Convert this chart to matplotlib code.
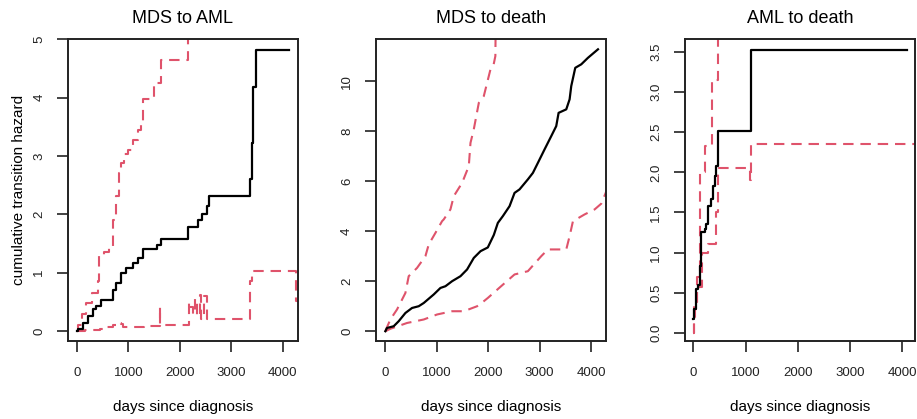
import matplotlib
matplotlib.use("Agg")
import matplotlib.pyplot as plt

plt.rcParams['font.family'] = ['Liberation Sans', 'DejaVu Sans']

RED = "#DF536B"

titles = ["MDS to AML", "MDS to death", "AML to death"]
x_label = "days since diagnosis"
y_label = "cumulative transition hazard"
x_ticks = [0, 1000, 2000, 3000, 4000]

# ---- MDS to AML ----
aml_t = [0, 20, 116, 213, 310, 375, 472, 666, 700, 760, 860, 955, 1087, 1184, 1281,
         1508, 1560, 1637, 2167, 2361, 2426, 2524, 2575, 3365, 3398, 3430, 3482, 4128]
aml_v = [0, 0.03, 0.14, 0.26, 0.37, 0.43, 0.54, 0.54, 0.71, 0.83, 1.0, 1.08, 1.17, 1.25, 1.40,
         1.40, 1.47, 1.58, 1.79, 1.91, 2.0, 2.14, 2.31, 2.60, 3.22, 4.19, 4.81, 4.81]
aml_hi_t = [0, 20, 100, 180, 300, 407, 440, 520, 634, 698, 763, 828, 860, 925, 990,
            1087, 1180, 1249, 1294, 1507, 1637, 2160, 4300]
aml_hi_v = [0, 0.10, 0.30, 0.48, 0.65, 0.86, 1.28, 1.35, 1.46, 1.91, 2.31, 2.70, 2.88, 3.03, 3.10,
            3.28, 3.45, 3.60, 3.97, 4.25, 4.64, 6.0, 6.0]
aml_lo_t = [0, 150, 450, 550, 700, 780, 850, 900, 1300, 1617, 1625, 2170, 2200, 2250, 2300,
            2330, 2400, 2420, 2480, 2525, 3365, 3400, 4255, 4300]
aml_lo_v = [0, 0.02, 0.04, 0.07, 0.10, 0.14, 0.12, 0.07, 0.09, 0.42, 0.11, 0.50, 0.42, 0.30, 0.55,
            0.25, 0.61, 0.20, 0.60, 0.20, 0.85, 1.03, 0.52, 0.52]

# ---- MDS to death ----
dth_t = [0, 31, 162, 259, 390, 519, 649, 747, 941, 1071, 1169, 1298, 1461, 1590, 1720,
         1851, 1993, 2110, 2188, 2285, 2416, 2513, 2610, 2772, 2870, 2967, 3097, 3227, 3324,
         3370, 3519, 3584, 3616, 3694, 3811, 3941, 4136]
dth_v = [0, 0.13, 0.20, 0.40, 0.73, 0.93, 1.0, 1.13, 1.47, 1.73, 1.80, 2.0, 2.2, 2.47, 2.93,
         3.2, 3.35, 3.85, 4.33, 4.6, 5.0, 5.53, 5.67, 6.07, 6.33, 6.73, 7.27, 7.8, 8.2,
         8.73, 8.87, 9.27, 9.8, 10.53, 10.67, 10.93, 11.27]
dth_hi_t = [0, 30, 97, 227, 390, 454, 616, 779, 844, 974, 1103, 1136, 1266, 1331, 1493,
            1623, 1656, 1720, 1818, 1915, 2045, 2100, 2140, 2150]
dth_hi_v = [0, 0.15, 0.47, 0.87, 1.53, 2.2, 2.53, 3.0, 3.47, 3.93, 4.4, 4.47, 4.87, 5.4, 5.93,
            6.6, 7.53, 8.07, 9.13, 9.4, 10.47, 10.6, 11.0, 13.0]
dth_lo_t = [0, 100, 421, 747, 1006, 1298, 1526, 1785, 1915, 1993, 2252, 2513, 2772, 3032,
            3162, 3519, 3584, 3649, 3876, 4071, 4200, 4300]
dth_lo_v = [0, 0.1, 0.33, 0.47, 0.67, 0.8, 0.8, 1.0, 1.2, 1.33, 1.8, 2.27, 2.4, 3.0,
            3.27, 3.27, 3.8, 4.4, 4.67, 4.87, 5.1, 5.6]

# ---- AML to death ----
ad_t = [0, 20, 58, 90, 121, 153, 217, 236, 281, 344, 376, 408, 440, 472, 1108, 4080]
ad_v = [0.17, 0.29, 0.54, 0.60, 0.83, 1.25, 1.29, 1.35, 1.58, 1.67, 1.83, 1.96, 2.08, 2.52, 3.53, 3.53]
ad_hi_t = [0, 15, 77, 120, 130, 223, 351, 466, 4300]
ad_hi_v = [0, 0.38, 0.70, 1.30, 2.0, 2.33, 3.15, 5.0, 5.0]
ad_lo_t = [0, 15, 40, 77, 160, 287, 434, 466, 1083, 1108, 4300]
ad_lo_v = [0, 0.12, 0.30, 0.57, 0.99, 1.10, 1.50, 2.05, 1.91, 2.35, 2.35]

# (times, values, upper times, upper values, lower times, lower values, yticks, yticklabels, drawstyle)
panels = [
    (aml_t, aml_v, aml_hi_t, aml_hi_v, aml_lo_t, aml_lo_v, [0, 1, 2, 3, 4, 5],
     ["0", "1", "2", "3", "4", "5"], "steps-post"),
    (dth_t, dth_v, dth_hi_t, dth_hi_v, dth_lo_t, dth_lo_v, [0, 2, 4, 6, 8, 10],
     ["0", "2", "4", "6", "8", "10"], "default"),
    (ad_t, ad_v, ad_hi_t, ad_hi_v, ad_lo_t, ad_lo_v, [0, 0.5, 1, 1.5, 2, 2.5, 3, 3.5],
     ["0.0", "0.5", "1.0", "1.5", "2.0", "2.5", "3.0", "3.5"], "steps-post"),
]

W, H = 917, 419
fig = plt.figure(figsize=(W / 100, H / 100), dpi=100)

boxes = [(68.3, 297.7), (376, 606), (685, 915)]
top_px, bot_px = 39.3, 341
xlims = [(-165, 4290), (-182, 4292), (-160, 4240)]
ylims = [(-0.171, 4.995), (-0.39, 11.67), (-0.104, 3.66)]

dash = (0, (5, 3.3))
for i, (bx, p) in enumerate(zip(boxes, panels)):
    t, v, ht, hv, lt, lv, yt, ytl, ds = p
    ax = fig.add_axes([bx[0] / W, 1 - bot_px / H, (bx[1] - bx[0]) / W, (bot_px - top_px) / H])
    ax.plot(t, v, color="black", lw=1.6, drawstyle=ds, zorder=3)
    ax.plot(ht, hv, color=RED, lw=1.5, ls=dash, drawstyle=ds, zorder=2)
    ax.plot(lt, lv, color=RED, lw=1.5, ls=dash, drawstyle=ds, zorder=2)
    ax.set_xlim(*xlims[i])
    ax.set_ylim(*ylims[i])
    ax.set_xticks(x_ticks)
    ax.set_xticklabels([str(x) for x in x_ticks])
    ax.set_yticks(yt)
    ax.set_yticklabels(ytl, rotation=90, va="center")
    ax.tick_params(direction="out", length=8, width=1.2, labelsize=9.5, colors="#222222")
    ax.tick_params(axis="x", pad=10.5)
    ax.tick_params(axis="y", pad=8.5)
    for s in ax.spines.values():
        s.set_linewidth(1.4)
        s.set_color("#222222")
    ax.set_title(titles[i], fontsize=13, pad=12)
    ax.set_xlabel(x_label, fontsize=11, labelpad=15)
    if i == 0:
        ax.set_ylabel(y_label, fontsize=11, labelpad=5)

fig.savefig("out.png", dpi=100)
